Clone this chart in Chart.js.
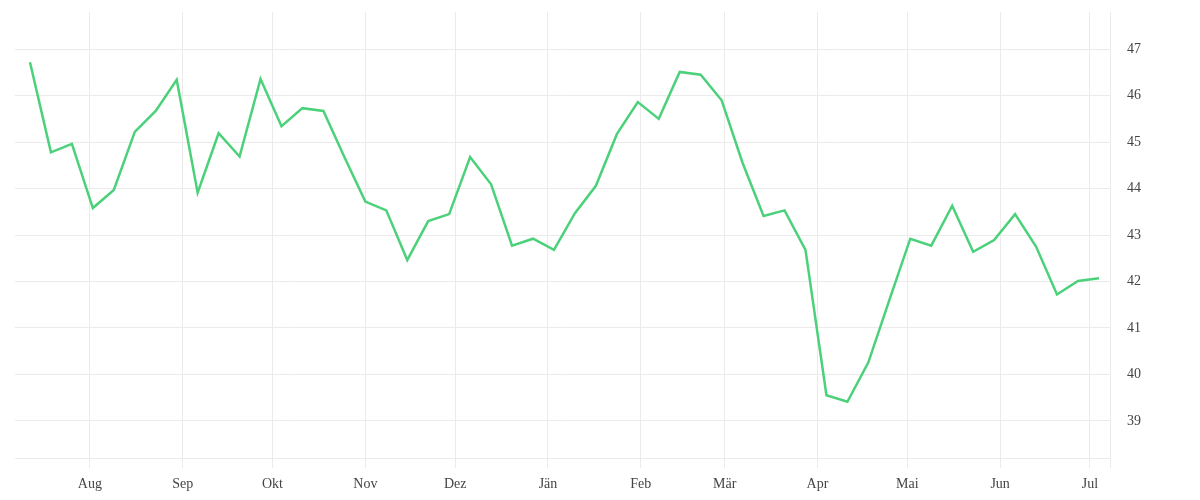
<html><head><meta charset="UTF-8"/>
<title>Kursverlauf</title>
<script src="https://cdn.jsdelivr.net/npm/chart.js"></script>
<style>
* {
    margin: 0;
    padding: 0;
    box-sizing: border-box;
}

body {
    background: #ffffff;
}

.chart-box {
    position: relative;
    width: 1200px;
    height: 500px;
}
</style>
</head>
<body>
<div class="chart-box">
    <canvas id="priceChart"></canvas>
</div>

<script>
// weekly closing values
const dates = [
    '2022-07-12', '2022-07-19', '2022-07-26', '2022-08-02', '2022-08-09', '2022-08-16', '2022-08-23', '2022-08-30',
    '2022-09-06', '2022-09-13', '2022-09-20', '2022-09-27', '2022-10-04', '2022-10-11', '2022-10-18', '2022-10-25',
    '2022-11-01', '2022-11-08', '2022-11-15', '2022-11-22', '2022-11-29', '2022-12-06', '2022-12-13', '2022-12-20',
    '2022-12-27', '2023-01-03', '2023-01-10', '2023-01-17', '2023-01-24', '2023-01-31', '2023-02-07', '2023-02-14',
    '2023-02-21', '2023-02-28', '2023-03-07', '2023-03-14', '2023-03-21', '2023-03-28', '2023-04-04', '2023-04-11',
    '2023-04-18', '2023-04-25', '2023-05-02', '2023-05-09', '2023-05-16', '2023-05-23', '2023-05-30', '2023-06-06',
    '2023-06-13', '2023-06-20', '2023-06-27', '2023-07-04'
];

const values = [
    46.72, 44.78, 44.96, 43.58, 43.97, 45.22, 45.67, 46.34,
    43.91, 45.19, 44.69, 46.36, 45.34, 45.73, 45.67, 44.68,
    43.72, 43.53, 42.46, 43.30, 43.45, 44.68, 44.09, 42.77,
    42.92, 42.68, 43.47, 44.06, 45.17, 45.86, 45.50, 46.51,
    46.45, 45.90, 44.55, 43.41, 43.53, 42.68, 39.55, 39.41,
    40.26, 41.60, 42.92, 42.77, 43.63, 42.64, 42.89, 43.45,
    42.75, 41.72, 42.01, 42.07
];

const monthStarts = [
    '2022-08-01', '2022-09-01', '2022-10-01', '2022-11-01', '2022-12-01', '2023-01-01',
    '2023-02-01', '2023-03-01', '2023-04-01', '2023-05-01', '2023-06-01', '2023-07-01'
];
const monthLabels = ['Aug', 'Sep', 'Okt', 'Nov', 'Dez', 'Jän', 'Feb', 'Mär', 'Apr', 'Mai', 'Jun', 'Jul'];

const yTicks = [39, 40, 41, 42, 43, 44, 45, 46, 47];

// days since 1 Aug 2022
function toDay(s) {
    const p = s.split('-').map(Number);
    return (Date.UTC(p[0], p[1] - 1, p[2]) - Date.UTC(2022, 7, 1)) / 86400000;
}

const xMin = -25;
const xMax = 340.7;
const monthDays = monthStarts.map(toDay);

const gridColor = '#ebebeb';
const textFont = { family: "'Liberation Serif', serif", size: 14 };

function createChart() {
    const ctx = document.getElementById('priceChart').getContext('2d');

    new Chart(ctx, {
        type: 'line',
        data: {
            datasets: [{
                data: dates.map((d, i) => ({ x: toDay(d), y: values[i] })),
                borderColor: '#4cd17b',
                borderWidth: 2.5,
                pointRadius: 0,
                fill: false,
                tension: 0
            }]
        },
        options: {
            responsive: true,
            maintainAspectRatio: false,
            animation: false,
            layout: { padding: { left: 15, top: 12, right: 0, bottom: 0 } },
            plugins: {
                legend: { display: false },
                tooltip: { enabled: false }
            },
            scales: {
                x: {
                    type: 'linear',
                    min: xMin,
                    max: xMax,
                    afterBuildTicks: scale => {
                        scale.ticks = monthDays.map(v => ({ value: v })).concat([{ value: xMax }]);
                    },
                    afterFit: scale => {
                        scale.height = 42;
                        scale.paddingLeft = 0;
                        scale.paddingRight = 0;
                    },
                    grid: { color: gridColor, tickLength: 10 },
                    border: { color: gridColor },
                    ticks: {
                        color: '#444',
                        font: textFont,
                        padding: 8,
                        maxRotation: 0,
                        autoSkip: false,
                        callback: (value, index) => monthLabels[index] || ''
                    }
                },
                y: {
                    position: 'right',
                    min: 38.2,
                    max: 47.8,
                    afterBuildTicks: scale => {
                        scale.ticks = yTicks.map(v => ({ value: v }));
                    },
                    afterFit: scale => {
                        scale.width = 90;
                        scale.paddingTop = 0;
                        scale.paddingBottom = 0;
                    },
                    grid: { color: gridColor, drawTicks: false },
                    border: { display: false },
                    ticks: {
                        color: '#444',
                        font: textFont,
                        padding: 17
                    }
                }
            }
        }
    });
}

createChart();
</script>
</body></html>
